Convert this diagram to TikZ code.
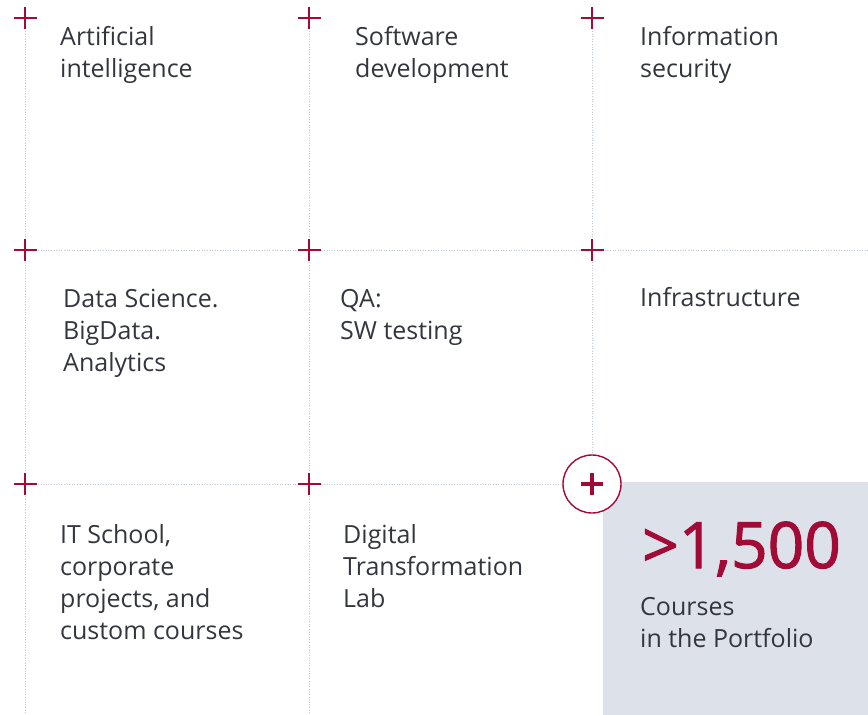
\documentclass[tikz,border=0pt]{standalone}
\usepackage{fontspec}
\setmainfont{Open Sans}
\newfontfamily\numfont{Open Sans}[FakeBold=1.6]
\definecolor{crimson}{HTML}{A30B37}
\definecolor{inkgrey}{HTML}{33363F}
\definecolor{gridblue}{HTML}{BCC4D8}
\definecolor{boxgrey}{HTML}{DDE1E9}
\tikzset{
  gridline/.style={gridblue,line width=1pt,dash pattern=on 1pt off 1.6pt},
  plusmark/.style={crimson,line width=2.2pt},
  cell/.style={anchor=base west,inner sep=0pt,align=left,text=inkgrey,
    font=\fontsize{25}{32}\selectfont},
  bignum/.style={anchor=base west,inner sep=0pt,text=crimson,
    font=\numfont\fontsize{64}{70}\selectfont}
}
\begin{document}
\begin{tikzpicture}[x=1pt,y=-1pt]
  \useasboundingbox (0,0) rectangle (868,715);
  % portfolio box
  \fill[boxgrey] (603,715) -- (603,492) arc[start angle=180,end angle=270,radius=10]
    -- (868,482) -- (868,715) -- cycle;
  % grid points
  \foreach \c/\x in {1/25,2/309,3/592}
    \foreach \r/\y in {1/18,2/250,3/484}
      \coordinate (g\r\c) at (\x,\y);
  \coordinate (b1) at (25,715);
  \coordinate (b2) at (309,715);
  \coordinate (e2) at (868,250);
  \node[circle,draw=crimson,fill=white,line width=1.4pt,minimum size=58pt,inner sep=0pt] (more) at (g33) {};
  % dotted grid
  \draw[gridline] (g11) -- (b1);
  \draw[gridline] (g12) -- (b2);
  \draw[gridline] (g13) -- (more.north);
  \draw[gridline] (g21) -- (e2);
  \draw[gridline] (g31) -- (more.west);
  % pluses
  \foreach \x/\y in {25/18,309/18,592/18,25/250,309/250,592/250,25/484,309/484}
    \draw[plusmark,shift={(\x,\y)}] (-11.5,0)--(11.5,0) (0,-11)--(0,11);
  \draw[crimson,line width=4pt,shift={(more.center)}] (-11,0)--(11,0) (0,-11)--(0,11);
  % topics (placed at the baseline of the last line)
  \node[cell] (ai) at (60,77) {Artificial\\intelligence};
  \node[cell] (sw) at (355,77) {Software\\development};
  \node[cell] (sec) at (640,77) {Information\\security};
  \node[cell] (ds) at (63,371) {Data Science.\\BigData.\\Analytics};
  \node[cell] (qa) at (340,339) {QA:\\SW testing};
  \node[cell] (inf) at (640,306) {Infrastructure};
  \node[cell] (its) at (60,639) {IT School,\\corporate\\projects, and\\custom courses};
  \node[cell] (dtl) at (343,607) {Digital\\Transformation\\Lab};
  \node[bignum] (num) at (642,568) {>1,500};
  \node[cell] (crs) at (640,647) {Courses\\in the Portfolio};
\end{tikzpicture}
\end{document}
